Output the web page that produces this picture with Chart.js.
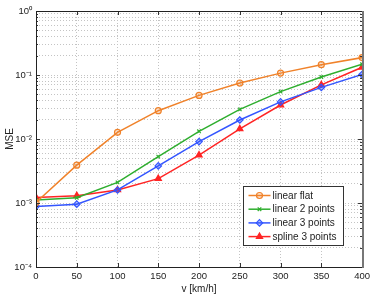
<!DOCTYPE html>
<html>
<head>
<meta charset="utf-8">
<script src="https://cdn.jsdelivr.net/npm/chart.js@4.4.1/dist/chart.umd.min.js"></script>
<style>
  html, body { margin: 0; padding: 0; background: #fff; }
  #wrap { width: 374px; height: 297px; }
</style>
</head>
<body>
<div id="wrap"><canvas id="mse-canvas" width="374" height="297"></canvas></div>
<script>
// speeds on the x axis
const speeds = [0, 50, 100, 150, 200, 250, 300, 350, 400];

// MSE per interpolation method
const linearFlat    = [0.00102, 0.0039, 0.0127, 0.0277, 0.048, 0.075, 0.107, 0.145, 0.187];
const linear2Points = [0.00111, 0.00121, 0.0021, 0.0053, 0.0132, 0.029, 0.055, 0.093, 0.147];
const linear3Points = [0.00088, 0.00096, 0.0016, 0.0038, 0.0091, 0.0198, 0.038, 0.064, 0.102];
const spline3Points = [0.00122, 0.0013, 0.0016, 0.0024, 0.0056, 0.0144, 0.034, 0.070, 0.132];

const seriesNames = ['linear flat', 'linear 2 points', 'linear 3 points', 'spline 3 points'];

// y ticks: decades plus the minor 2..9 lines
const yDecades = [1e-4, 1e-3, 1e-2, 1e-1, 1];
const yMinor = [2, 3, 4, 5, 6, 7, 8, 9];
const xTicks = [0, 50, 100, 150, 200, 250, 300, 350, 400];

const FONT = '"Liberation Sans", Arial, Helvetica, sans-serif';
const sup = {'0':'⁰','1':'¹','2':'²','3':'³','4':'⁴','-':'⁻'};

const styles = [
  {color: '#f0822a', fill: 'rgba(240,130,42,0.25)', point: 'circle', r: 3},
  {color: '#2eae2e', fill: '#2eae2e', point: 'crossRot', r: 2.5},
  {color: '#3355ff', fill: 'rgba(51,85,255,0.35)', point: 'rectRot', r: 3.2},
  {color: '#ff2424', fill: '#ff2424', point: 'triangle', r: 3.6}
];

function yTickList(){
  const out = [];
  yDecades.forEach(function(d, i){
    out.push(d);
    if(i < yDecades.length - 1){
      yMinor.forEach(m => out.push(m * d));
    }
  });
  return out;
}

function make_dataset(name, values, i){
  const s = styles[i];
  return {
    label: name,
    data: speeds.map((v, k) => ({x: v, y: values[k]})),
    borderColor: s.color,
    backgroundColor: s.fill,
    pointBorderColor: s.color,
    pointBackgroundColor: s.fill,
    pointStyle: s.point,
    pointRadius: s.r,
    pointBorderWidth: 1.2,
    borderWidth: 1.5,
    tension: 0
  };
}

// frame, inward ticks and the boxed legend
const framePlugin = {
  id: 'frame',
  afterDatasetsDraw(chart){
    const {ctx, chartArea: a, scales} = chart;
    ctx.save();
    // inward tick marks
    ctx.strokeStyle = '#333';
    ctx.lineWidth = 1;
    ctx.beginPath();
    xTicks.forEach(function(v){
      const px = Math.round(scales.x.getPixelForValue(v)) + 0.5;
      ctx.moveTo(px, a.bottom); ctx.lineTo(px, a.bottom - 4);
      ctx.moveTo(px, a.top); ctx.lineTo(px, a.top + 4);
    });
    yTickList().forEach(function(v){
      const py = Math.round(scales.y.getPixelForValue(v)) + 0.5;
      const len = yDecades.includes(v) ? 4 : 2;
      ctx.moveTo(a.left, py); ctx.lineTo(a.left + len, py);
      ctx.moveTo(a.right, py); ctx.lineTo(a.right - len, py);
    });
    ctx.stroke();
    // frame
    ctx.strokeStyle = '#222';
    ctx.strokeRect(Math.round(a.left) + 0.5, Math.round(a.top) + 0.5,
                   Math.round(a.right - a.left), Math.round(a.bottom - a.top));
    ctx.strokeStyle = '#777';
    ctx.lineWidth = 2;
    ctx.beginPath();
    ctx.moveTo(Math.round(a.right) + 1, a.top);
    ctx.lineTo(Math.round(a.right) + 1, a.bottom + 1);
    ctx.stroke();

    // legend box
    const bx = 243.5, by = 186.5, bw = 100, bh = 59;
    ctx.fillStyle = '#fff';
    ctx.fillRect(bx, by, bw, bh);
    ctx.strokeStyle = '#333';
    ctx.lineWidth = 1;
    ctx.strokeRect(bx, by, bw, bh);
    ctx.font = '10px ' + FONT;
    ctx.textBaseline = 'middle';
    ctx.textAlign = 'left';
    chart.data.datasets.forEach(function(ds, i){
      const y = by + 9 + i * 13.7;
      ctx.strokeStyle = ds.borderColor;
      ctx.lineWidth = 1.5;
      ctx.beginPath();
      ctx.moveTo(bx + 5, y); ctx.lineTo(bx + 27, y);
      ctx.stroke();
      ctx.fillStyle = ds.pointBackgroundColor;
      ctx.strokeStyle = ds.pointBorderColor;
      ctx.lineWidth = 1.2;
      Chart.helpers.drawPoint(ctx, {pointStyle: ds.pointStyle, radius: ds.pointRadius, borderWidth: 1.2}, bx + 16, y);
      ctx.fillStyle = '#222';
      ctx.fillText(ds.label, bx + 29, y + 0.5);
    });
    ctx.restore();
  }
};

function make_mse_chart(){
  const ctx = document.getElementById('mse-canvas');
  const datasets = [linearFlat, linear2Points, linear3Points, spline3Points]
    .map((vals, i) => make_dataset(seriesNames[i], vals, i));
  return new Chart(ctx, {
    type: 'line',
    data: {datasets: datasets},
    plugins: [framePlugin],
    options: {
      responsive: false,
      animation: false,
      devicePixelRatio: 1,
      layout: {padding: {top: 11, right: 10, left: 0, bottom: 0}},
      plugins: {
        legend: {display: false},
        tooltip: {enabled: false}
      },
      scales: {
        x: {
          type: 'linear',
          min: 0,
          max: 400,
          afterBuildTicks: function(scale){
            scale.ticks = xTicks.map(v => ({value: v}));
          },
          afterFit: function(scale){ scale.height = 30; },
          grid: {color: '#c4c4c4', drawTicks: false},
          border: {display: false, dash: [1, 2]},
          ticks: {
            padding: 4,
            color: '#222',
            font: {family: FONT, size: 9.5},
            maxRotation: 0,
            autoSkip: false
          },
          title: {
            display: true,
            text: 'v [km/h]',
            color: '#222',
            font: {family: FONT, size: 10},
            padding: {top: 0, bottom: 2}
          }
        },
        y: {
          type: 'logarithmic',
          min: 1e-4,
          max: 1,
          afterBuildTicks: function(scale){
            scale.ticks = yTickList().map(v => ({value: v}));
          },
          afterFit: function(scale){ scale.width = 36; },
          grid: {color: '#c4c4c4', drawTicks: false},
          border: {display: false, dash: [1, 2]},
          ticks: {
            padding: 4,
            color: '#222',
            font: {family: FONT, size: 9.5},
            autoSkip: false,
            callback: function(value){
              const e = Math.log10(value);
              if(Math.abs(e - Math.round(e)) > 1e-9) return '';
              return '10' + String(Math.round(e)).split('').map(c => sup[c]).join('');
            }
          },
          title: {
            display: true,
            text: 'MSE',
            color: '#222',
            font: {family: FONT, size: 10},
            padding: {top: 4, bottom: 0}
          }
        }
      }
    }
  });
}

make_mse_chart();
</script>
</body>
</html>
